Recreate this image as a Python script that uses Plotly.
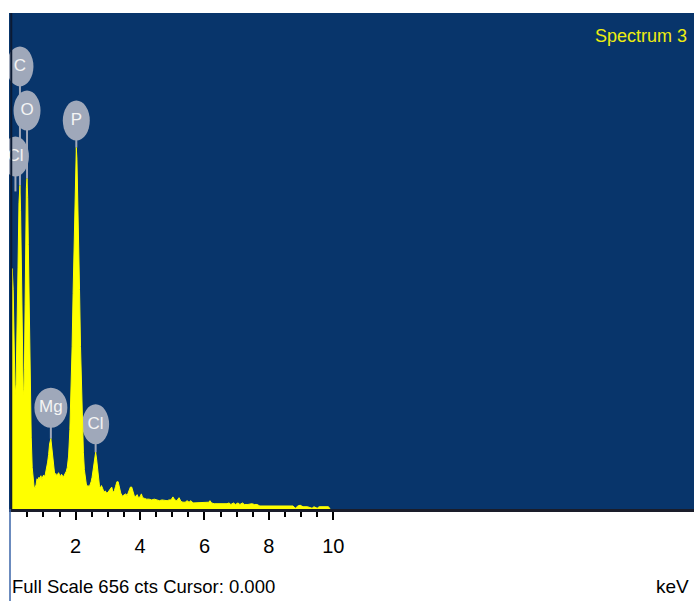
import plotly.graph_objects as go

# EDS spectrum: channel energy (keV) and counts
energy_kev = [
    0.00, 0.03, 0.06, 0.09, 0.12, 0.15, 0.18, 0.21, 0.24, 0.27, 0.29, 0.31, 0.34, 0.37, 0.39,
    0.41, 0.43, 0.45, 0.47, 0.49, 0.51, 0.53, 0.56, 0.59, 0.62, 0.65, 0.68, 0.71, 0.74, 0.77,
    0.80, 0.83, 0.86, 0.89, 0.92, 0.95, 0.98, 1.01, 1.04, 1.07, 1.10, 1.13, 1.16, 1.19, 1.23,
    1.26, 1.29, 1.32, 1.35, 1.38, 1.41, 1.44, 1.47, 1.50, 1.53, 1.56, 1.59, 1.62, 1.65, 1.68,
    1.71, 1.74, 1.78, 1.82, 1.86, 1.89, 1.92, 1.95, 1.98, 2.00, 2.02, 2.04, 2.06, 2.09, 2.12,
    2.15, 2.18, 2.21, 2.24, 2.27, 2.30, 2.33, 2.36, 2.39, 2.42, 2.45, 2.48, 2.51, 2.54, 2.57,
    2.60, 2.62, 2.65, 2.68, 2.71, 2.74, 2.77, 2.80, 2.84, 2.88, 2.92, 2.96, 3.00, 3.04, 3.08,
    3.12, 3.16, 3.20, 3.24, 3.28, 3.32, 3.36, 3.40, 3.45, 3.50, 3.55, 3.60, 3.65, 3.70, 3.74,
    3.78, 3.83, 3.87, 3.91, 3.95, 4.00, 4.04, 4.08, 4.14, 4.20, 4.28, 4.36, 4.44, 4.52, 4.60,
    4.68, 4.76, 4.84, 4.90, 4.96, 5.02, 5.08, 5.14, 5.21, 5.27, 5.33, 5.40, 5.46, 5.52, 5.58,
    5.64, 5.75, 5.86, 5.97, 6.08, 6.14, 6.17, 6.22, 6.30, 6.40, 6.50, 6.60, 6.70, 6.76, 6.82,
    6.90, 6.96, 7.04, 7.10, 7.18, 7.24, 7.35, 7.47, 7.55, 7.63, 7.72, 7.85, 8.00, 8.15, 8.30,
    8.45, 8.60, 8.75, 8.82, 8.90, 8.97, 9.06, 9.20, 9.34, 9.40, 9.50, 9.56, 9.70, 9.85, 9.90,
]
counts = [
    300, 318, 290, 205, 150, 165, 225, 320, 405, 428, 395, 320, 220, 158, 150,
    185, 270, 370, 425, 437, 412, 350, 250, 160, 95, 55, 38, 29, 28, 32,
    40, 38, 42, 40, 44, 39, 43, 45, 42, 48, 55, 62, 72, 86, 93,
    80, 62, 50, 45, 47, 44, 46, 48, 45, 43, 46, 44, 42, 45, 47,
    50, 55, 70, 105, 160, 215, 285, 355, 420, 455, 478, 462, 425, 360, 290,
    215, 155, 108, 75, 52, 40, 33, 30, 31, 29, 32, 36, 42, 52, 63,
    72, 75, 66, 50, 38, 30, 28, 31, 27, 22, 24, 21, 22, 25, 28,
    29, 22, 24, 30, 36, 36, 27, 21, 17, 18, 20, 18, 24, 29, 29,
    22, 16, 17, 19, 15, 16, 20, 15, 14, 13, 13, 12, 13, 12, 11,
    12, 11, 11, 12, 12, 16, 12, 11, 15, 10, 9, 9, 11, 9, 11,
    8, 8, 8, 8, 8, 9, 11, 8, 7, 7, 7, 7, 7, 8, 6,
    8, 6, 8, 6, 8, 6, 6, 7, 6, 6, 4, 4, 4, 4, 4,
    4, 4, 4, 1, 4, 5, 3, 3, 1, 3, 1, 3, 3, 3, 0,
]

# Identified lines: element, energy (keV), count at the marker
line_names = ["C", "O", "Cl", "P", "Mg", "Cl"]
line_kev = [0.27, 0.49, 0.13, 2.02, 1.23, 2.62]
line_cts = [428, 437, 420, 478, 93, 75]

full_scale_cts = 656
cursor_kev = 0.000
spectrum_name = "Spectrum 3"
x_tick_vals = [2, 4, 6, 8, 10]
x_tick_text = ["2", "4", "6", "8", "10"]

# Label balloon styling (pixels)
balloon_lift_px = [119, 68, 35, 27, 31, 28]
balloon_w_px = [27, 27, 27, 27, 33, 27]
balloon_h_px = 40

W, H = 694, 601
M_L, M_R, M_T, M_B = 9, 0, 13, 92
plot_h = H - M_T - M_B

BLUE = "#08356b"
YELLOW = "#ffff00"
BALLOON = "#9fa8ba"
FONT = "Liberation Sans, Arial, sans-serif"

cts_per_px = full_scale_cts / plot_h

fig = go.Figure()

fig.add_trace(go.Scatter(
    x=energy_kev, y=counts, mode="lines",
    line=dict(color=YELLOW, width=1),
    fill="tozeroy", fillcolor=YELLOW,
    hoverinfo="skip", showlegend=False,
))

shapes = []
for name, kev, cts, lift, bw in zip(line_names, line_kev, line_cts, balloon_lift_px, balloon_w_px):
    shapes.append(dict(
        type="line", layer="below", xref="x", yref="y",
        xsizemode="pixel", ysizemode="pixel", xanchor=kev, yanchor=cts,
        x0=0, x1=0, y0=0, y1=lift,
        line=dict(color=BALLOON, width=2),
    ))
    shapes.append(dict(
        type="circle", layer="below", xref="x", yref="y",
        xsizemode="pixel", ysizemode="pixel", xanchor=kev, yanchor=cts,
        x0=-bw / 2, x1=bw / 2, y0=lift - balloon_h_px / 2, y1=lift + balloon_h_px / 2,
        fillcolor=BALLOON, line=dict(width=0),
    ))

# zero-energy marker line and window border below the plot
shapes.append(dict(type="line", xref="x", yref="paper", x0=0, x1=0, y0=0, y1=1,
                   line=dict(color="#0b1a33", width=2), layer="above"))
shapes.append(dict(type="line", xref="paper", yref="paper",
                   x0=1 / (W - M_L - M_R), x1=1 / (W - M_L - M_R),
                   y0=-M_B / plot_h, y1=0, line=dict(color="#3a64a8", width=1.5)))
fig.update_layout(shapes=shapes)

fig.add_trace(go.Scatter(
    x=line_kev,
    y=[c + l * cts_per_px for c, l in zip(line_cts, balloon_lift_px)],
    mode="text", text=line_names, textposition="middle center",
    textfont=dict(family=FONT, size=17, color="#f4f4f4"),
    hoverinfo="skip", showlegend=False, cliponaxis=True,
))

fig.add_annotation(
    text=spectrum_name, xref="paper", yref="paper", x=0.992, y=(plot_h - 23) / plot_h,
    xanchor="right", yanchor="middle", showarrow=False,
    font=dict(family=FONT, size=18, color="#ecec10"),
)
fig.add_annotation(
    text=f"Full Scale {full_scale_cts} cts Cursor: {cursor_kev:.3f}",
    xref="paper", yref="paper", x=0.0015, y=-77 / plot_h,
    xanchor="left", yanchor="middle", showarrow=False,
    font=dict(family=FONT, size=18.5, color="#000000"),
)
fig.add_annotation(
    text="keV", xref="paper", yref="paper", x=0.995, y=-77 / plot_h,
    xanchor="right", yanchor="middle", showarrow=False,
    font=dict(family=FONT, size=19, color="#000000"),
)

fig.update_layout(
    width=W, height=H,
    margin=dict(l=M_L, r=M_R, t=M_T, b=M_B, pad=0),
    paper_bgcolor="#ffffff", plot_bgcolor=BLUE,
    xaxis=dict(
        range=[-0.07, 21.2], tickmode="array", tickvals=x_tick_vals, ticktext=x_tick_text,
        ticks="outside", ticklen=8, tickwidth=1.5, tickcolor="#000000",
        tickfont=dict(family=FONT, size=20, color="#000000"), ticklabelstandoff=9,
        showline=True, linecolor="#1a1d2a", linewidth=3,
        showgrid=False, zeroline=False,
        minor=dict(tickvals=[0.5 * k for k in range(1, 21) if k % 4 != 0],
                   ticks="outside", ticklen=5, tickwidth=1.5, tickcolor="#000000", showgrid=False),
    ),
    yaxis=dict(range=[0, full_scale_cts], visible=False, showgrid=False, zeroline=False),
    showlegend=False,
)

fig.write_html("out.html", config={"displayModeBar": False})
